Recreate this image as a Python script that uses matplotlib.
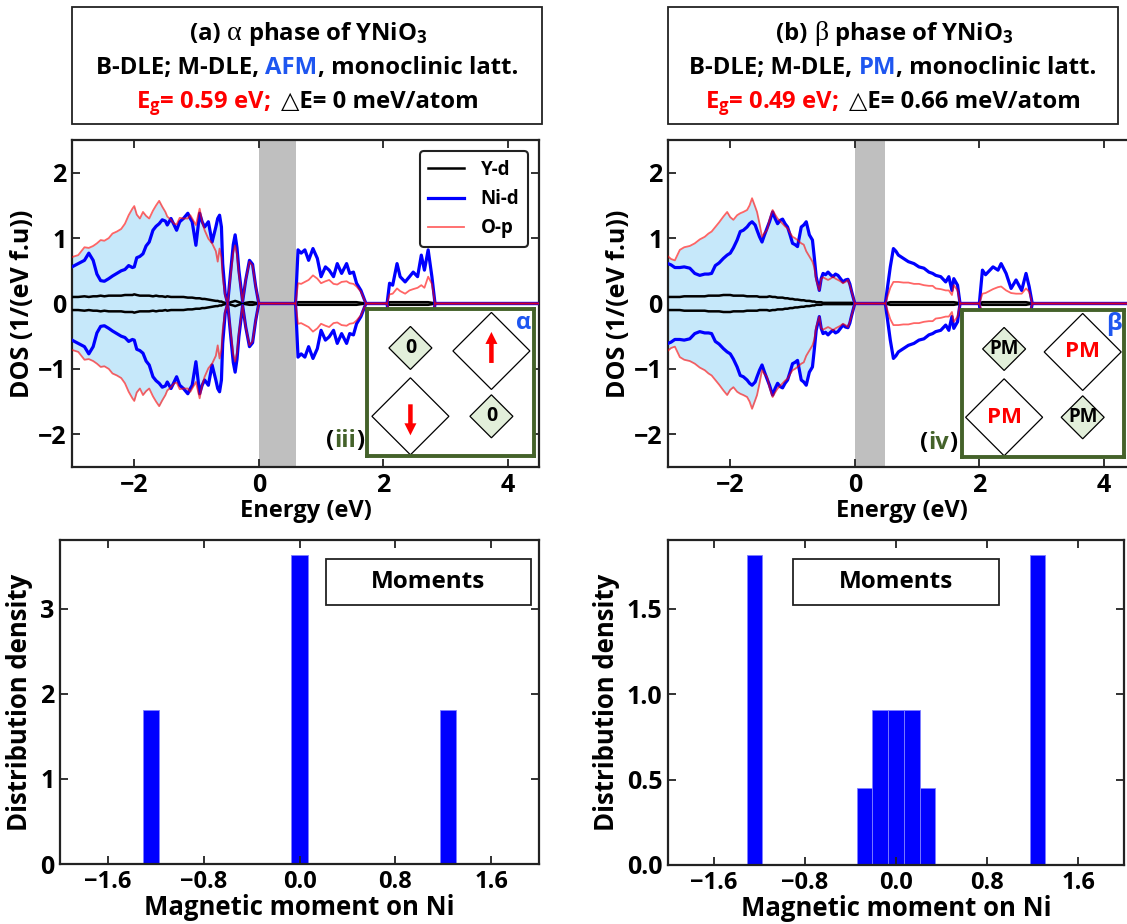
import numpy as np
import matplotlib
matplotlib.use('Agg')
import matplotlib.pyplot as plt
from matplotlib.patches import Polygon, Rectangle, FancyArrow
from matplotlib.ticker import FuncFormatter

# ---------------- data ----------------
E_a = [-3.00, -2.90, -2.80, -2.73, -2.66, -2.60, -2.54, -2.48, -2.41, -2.35,
       -2.28, -2.21, -2.15, -2.09, -2.03, -2.00, -1.96, -1.91, -1.86, -1.81,
       -1.76, -1.70, -1.65, -1.60, -1.55, -1.50, -1.47, -1.41, -1.36, -1.32,
       -1.27, -1.21, -1.14, -1.10, -1.07, -1.01, -0.95, -0.91, -0.87, -0.81,
       -0.75, -0.69, -0.66, -0.63, -0.60, -0.58, -0.54, -0.50, -0.45, -0.41,
       -0.38, -0.35, -0.32, -0.26, -0.21, -0.15, -0.10, -0.05, 0.00, 0.59,
       0.63, 0.68, 0.74, 0.80, 0.87, 0.94, 1.00, 1.07, 1.13, 1.20,
       1.26, 1.33, 1.41, 1.46, 1.52, 1.57, 1.64, 1.72, 2.06, 2.10,
       2.15, 2.22, 2.27, 2.35, 2.42, 2.48, 2.55, 2.61, 2.66, 2.72,
       2.78, 2.83, 4.50]
ni_a = [0.56, 0.61, 0.66, 0.77, 0.66, 0.45, 0.35, 0.34, 0.38, 0.42,
        0.46, 0.50, 0.52, 0.58, 0.55, 0.56, 0.70, 0.72, 0.76, 0.88,
        0.94, 1.12, 1.18, 1.22, 1.28, 1.26, 1.20, 1.30, 1.20, 1.12,
        1.25, 1.30, 1.38, 1.30, 1.25, 0.89, 1.38, 1.25, 1.17, 1.25,
        0.94, 1.17, 1.30, 1.35, 1.17, 0.61, 0.15, 0.00, 0.51, 0.90,
        1.05, 0.85, 0.51, 0.03, 0.36, 0.66, 0.60, 0.26, 0.00, 0.00,
        0.82, 0.77, 0.82, 0.66, 0.84, 0.69, 0.41, 0.56, 0.51, 0.41,
        0.61, 0.46, 0.61, 0.46, 0.48, 0.31, 0.20, 0.00, 0.00, 0.31,
        0.28, 0.61, 0.41, 0.33, 0.41, 0.48, 0.41, 0.74, 0.51, 0.82,
        0.41, 0.00, 0.00]
op_a = [0.71, 0.74, 0.86, 0.85, 0.88, 0.92, 0.97, 0.96, 1.00, 1.07,
        1.10, 1.14, 1.22, 1.35, 1.45, 1.49, 1.36, 1.30, 1.40, 1.34,
        1.30, 1.42, 1.50, 1.57, 1.48, 1.40, 1.33, 1.28, 1.22, 1.21,
        1.31, 1.30, 1.30, 1.35, 1.30, 1.20, 1.45, 1.25, 1.12, 0.99,
        0.92, 0.80, 0.64, 0.84, 0.70, 0.41, 0.12, 0.00, 0.45, 0.78,
        0.89, 0.75, 0.45, 0.03, 0.36, 0.64, 0.58, 0.26, 0.00, 0.00,
        0.31, 0.30, 0.33, 0.36, 0.43, 0.38, 0.31, 0.34, 0.36, 0.30,
        0.29, 0.33, 0.34, 0.31, 0.30, 0.26, 0.18, 0.00, 0.00, 0.14,
        0.15, 0.23, 0.19, 0.15, 0.20, 0.22, 0.24, 0.28, 0.24, 0.41,
        0.30, 0.00, 0.00]
yd_a = [0.10, 0.10, 0.11, 0.10, 0.11, 0.11, 0.12, 0.11, 0.12, 0.12,
        0.12, 0.12, 0.13, 0.13, 0.13, 0.14, 0.13, 0.12, 0.12, 0.12,
        0.12, 0.11, 0.12, 0.11, 0.11, 0.10, 0.11, 0.10, 0.10, 0.10,
        0.10, 0.10, 0.09, 0.09, 0.09, 0.08, 0.08, 0.07, 0.07, 0.06,
        0.05, 0.04, 0.04, 0.03, 0.03, 0.02, 0.01, 0.00, 0.02, 0.03,
        0.04, 0.03, 0.02, 0.00, 0.01, 0.02, 0.02, 0.01, 0.00, 0.00,
        0.02, 0.02, 0.02, 0.02, 0.02, 0.02, 0.02, 0.02, 0.02, 0.02,
        0.02, 0.02, 0.02, 0.02, 0.02, 0.02, 0.01, 0.00, 0.00, 0.02,
        0.02, 0.02, 0.02, 0.02, 0.02, 0.02, 0.02, 0.02, 0.02, 0.02,
        0.01, 0.00, 0.00]

E_b = [-3.00, -2.95, -2.89, -2.81, -2.74, -2.65, -2.57, -2.49, -2.41, -2.35,
       -2.30, -2.24, -2.18, -2.11, -2.05, -2.00, -1.95, -1.89, -1.84, -1.79,
       -1.73, -1.69, -1.65, -1.60, -1.57, -1.53, -1.49, -1.45, -1.41, -1.37,
       -1.32, -1.28, -1.24, -1.20, -1.16, -1.12, -1.08, -1.04, -1.00, -0.96,
       -0.92, -0.86, -0.82, -0.78, -0.73, -0.68, -0.65, -0.62, -0.57, -0.54,
       -0.51, -0.47, -0.43, -0.39, -0.35, -0.31, -0.27, -0.23, -0.19, -0.15,
       -0.11, -0.08, -0.05, 0.00, 0.49, 0.57, 0.62, 0.66, 0.70, 0.78,
       0.86, 0.95, 1.03, 1.11, 1.19, 1.25, 1.30, 1.38, 1.46, 1.51,
       1.56, 1.59, 1.65, 1.69, 2.00, 2.05, 2.10, 2.14, 2.22, 2.30,
       2.35, 2.43, 2.51, 2.59, 2.68, 2.75, 2.80, 2.85, 4.50]
ni_b = [0.61, 0.59, 0.55, 0.55, 0.56, 0.54, 0.46, 0.43, 0.45, 0.45,
        0.46, 0.58, 0.62, 0.69, 0.74, 0.77, 0.85, 0.97, 1.10, 1.12,
        1.17, 1.22, 1.25, 1.20, 1.12, 1.02, 0.94, 1.05, 1.15, 1.25,
        1.40, 1.30, 1.22, 1.27, 1.29, 1.22, 1.17, 1.05, 0.92, 0.90,
        0.87, 1.17, 1.20, 1.25, 1.05, 0.97, 0.70, 0.41, 0.20, 0.38,
        0.46, 0.44, 0.48, 0.44, 0.41, 0.45, 0.43, 0.38, 0.33, 0.36,
        0.37, 0.30, 0.18, 0.00, 0.00, 0.56, 0.84, 0.80, 0.74, 0.69,
        0.64, 0.61, 0.56, 0.54, 0.48, 0.46, 0.43, 0.41, 0.33, 0.41,
        0.20, 0.38, 0.28, 0.00, 0.00, 0.51, 0.44, 0.48, 0.56, 0.51,
        0.61, 0.46, 0.23, 0.36, 0.20, 0.46, 0.26, 0.00, 0.00]
op_b = [0.72, 0.68, 0.66, 0.82, 0.86, 0.88, 0.92, 0.98, 1.02, 1.07,
        1.10, 1.17, 1.24, 1.33, 1.40, 1.32, 1.28, 1.35, 1.38, 1.40,
        1.43, 1.50, 1.61, 1.48, 1.40, 1.22, 1.02, 1.08, 1.12, 1.28,
        1.43, 1.36, 1.30, 1.26, 1.22, 1.18, 1.15, 1.08, 1.02, 1.00,
        0.97, 0.92, 0.90, 0.80, 0.72, 0.64, 0.55, 0.36, 0.20, 0.38,
        0.40, 0.38, 0.36, 0.38, 0.41, 0.38, 0.36, 0.34, 0.31, 0.33,
        0.36, 0.28, 0.18, 0.00, 0.00, 0.24, 0.33, 0.33, 0.33, 0.32,
        0.32, 0.30, 0.30, 0.28, 0.27, 0.27, 0.23, 0.22, 0.20, 0.20,
        0.13, 0.28, 0.20, 0.00, 0.00, 0.15, 0.16, 0.18, 0.22, 0.25,
        0.26, 0.20, 0.16, 0.15, 0.15, 0.23, 0.18, 0.00, 0.00]
yd_b = [0.10, 0.10, 0.10, 0.10, 0.11, 0.11, 0.11, 0.11, 0.11, 0.12,
        0.12, 0.12, 0.12, 0.13, 0.13, 0.13, 0.12, 0.12, 0.12, 0.12,
        0.11, 0.11, 0.11, 0.11, 0.11, 0.10, 0.10, 0.10, 0.10, 0.11,
        0.10, 0.10, 0.09, 0.09, 0.09, 0.08, 0.08, 0.07, 0.07, 0.06,
        0.06, 0.05, 0.05, 0.04, 0.04, 0.03, 0.03, 0.02, 0.02, 0.02,
        0.01, 0.01, 0.01, 0.01, 0.01, 0.01, 0.01, 0.01, 0.01, 0.01,
        0.01, 0.01, 0.01, 0.00, 0.00, 0.02, 0.02, 0.02, 0.02, 0.02,
        0.02, 0.02, 0.02, 0.02, 0.02, 0.02, 0.02, 0.02, 0.02, 0.02,
        0.02, 0.02, 0.01, 0.00, 0.00, 0.02, 0.02, 0.02, 0.02, 0.02,
        0.02, 0.02, 0.02, 0.02, 0.02, 0.02, 0.01, 0.00, 0.00]

gap_a = 0.59
gap_b = 0.49

mom_a = [-1.31, 0.0, 0.0, 1.31]
mom_b = [-1.31, -1.31, -1.31, -1.31, -0.28, -0.15, -0.12, -0.02,
         0.02, 0.12, 0.15, 0.28, 1.31, 1.31, 1.31, 1.31]
mom_bins = 19
mom_ticks = [-1.6, -0.8, 0.0, 0.8, 1.6]

legend_labels = ['Y-d', 'Ni-d', 'O-p']

# ---------------- style ----------------
FONT = 'Open Sans'
plt.rcParams['font.family'] = [FONT, 'DejaVu Sans']
plt.rcParams['font.weight'] = 'bold'
plt.rcParams['axes.labelweight'] = 'bold'
plt.rcParams['mathtext.fontset'] = 'custom'
plt.rcParams['mathtext.rm'] = FONT + ':bold'
plt.rcParams['mathtext.bf'] = FONT + ':bold'
plt.rcParams['mathtext.it'] = FONT + ':bold'
plt.rcParams['mathtext.default'] = 'bf'
plt.rcParams['axes.linewidth'] = 1.6
plt.rcParams['axes.edgecolor'] = '#222222'

GREEN = '#44622a'
BLUE_TXT = '#1e56f0'
FILL = '#c6e8fa'

W, H = 1127, 924
fig = plt.figure(figsize=(W / 100, H / 100), dpi=100)
renderer = fig.canvas.get_renderer()


def px_axes(x0, y0, x1, y1):
    return fig.add_axes([x0 / W, 1 - y1 / H, (x1 - x0) / W, (y1 - y0) / H])


def style_ticks(ax, xsize, ysize):
    ax.tick_params(direction='in', top=True, right=True, length=6, width=1.3,
                   color='#222222')
    ax.tick_params(axis='x', labelsize=xsize, pad=4)
    ax.tick_params(axis='y', labelsize=ysize, pad=4)
    for lab in ax.get_xticklabels() + ax.get_yticklabels():
        lab.set_fontweight('bold')


def text_width(s, props):
    t1 = fig.text(0, 0, '|' + s + '|', **props)
    t2 = fig.text(0, 0, '||', **props)
    w = t1.get_window_extent(renderer).width - t2.get_window_extent(renderer).width
    t1.remove()
    t2.remove()
    return w


def mixed_text(x, y, parts, ha='center'):
    """parts: list of (string, props, extra_gap_px); x,y in figure px (y from top, baseline)."""
    widths = [text_width(s, p) + g for s, p, g in parts]
    total = sum(widths)
    if ha == 'center':
        start = x - total / 2
    elif ha == 'right':
        start = x - total
    else:
        start = x
    cur = start
    for (s, p, g), w in zip(parts, widths):
        lead = len(s) - len(s.lstrip(' '))
        off = (text_width(' ' * lead, p) if lead else 0) + g
        fig.text((cur + off) / W, 1 - y / H, s.strip(' '), ha='left', va='baseline', **p)
        cur += w


def title_box(x0, y0, x1, y1, lines):
    fig.patches.append(Rectangle((x0 / W, 1 - y1 / H), (x1 - x0) / W, (y1 - y0) / H,
                                 transform=fig.transFigure, fc='white', ec='#222222',
                                 lw=1.3))
    xc = (x0 + x1) / 2
    for yb, parts in lines:
        mixed_text(xc, yb, parts)


TS = 17.2
base = dict(fontsize=TS, fontweight='bold', color='black')
greek = dict(fontsize=TS + 3, fontweight='normal', color='black',
             family=['Liberation Serif', 'DejaVu Serif'])
red = dict(base, color='red')
blue = dict(base, color=BLUE_TXT)

title_box(72, 7, 542, 124, [
    (40, [('(a) ', base, 0), ('\u03b1', greek, 0), (' phase of YNiO$_3$', base, 0)]),
    (74, [('B-DLE; M-DLE, ', base, 0), ('AFM', blue, 0), (', monoclinic latt.', base, 0)]),
    (108, [('E$_g$= 0.59 eV;', red, 0), ('\u25b3E= 0 meV/atom', base, 14)]),
])
title_box(668, 7, 1118, 124, [
    (40, [('(b) ', base, 0), ('\u03b2', greek, 0), (' phase of YNiO$_3$', base, 0)]),
    (74, [('B-DLE; M-DLE, ', base, 0), ('PM', blue, 0), (', monoclinic latt.', base, 0)]),
    (108, [('E$_g$= 0.49 eV;', red, 0), ('\u25b3E= 0.66 meV/atom', base, 14)]),
])


def dos_panel(ax, E, ni, op, yd, gap, legend):
    E = np.asarray(E)
    ni = np.asarray(ni)
    op = np.asarray(op)
    yd = np.asarray(yd)
    ax.axvspan(0, gap, color='gray', alpha=0.5, lw=0, zorder=1)
    occ = E <= 0
    env = np.maximum(ni, op)
    ax.fill_between(E[occ], env[occ], -env[occ], color=FILL, lw=0, zorder=2)
    l1, = ax.plot(E, yd, color='black', lw=1.8, zorder=3)
    ax.plot(E, -yd, color='black', lw=1.8, zorder=3)
    l2, = ax.plot(E, ni, color='blue', lw=2.3, zorder=4)
    ax.plot(E, -ni, color='blue', lw=2.3, zorder=4)
    l3, = ax.plot(E, op, color='red', alpha=0.6, lw=1.3, zorder=5)
    ax.plot(E, -op, color='red', alpha=0.6, lw=1.3, zorder=5)
    ax.set_xlim(-3, 4.5)
    ax.set_ylim(-2.5, 2.5)
    ax.set_xticks([-2, 0, 2, 4])
    ax.set_yticks([-2, -1, 0, 1, 2])
    ax.set_xlabel('Energy (eV)', fontsize=17, labelpad=1)
    ax.set_ylabel('DOS (1/(eV f.u))', fontsize=18, labelpad=2)
    style_ticks(ax, 18, 18)
    if legend:
        lg = ax.legend([l1, l2, l3], legend_labels, loc='upper right', fontsize=13.5,
                       frameon=True, fancybox=True, framealpha=1, edgecolor='#222222',
                       handlelength=1.9, labelspacing=0.5, borderpad=0.45,
                       handletextpad=0.9, borderaxespad=0.6)
        lg.get_frame().set_linewidth(1.5)
        lg.set_zorder(20)
        for t in lg.get_texts():
            t.set_fontweight('bold')


def inset(ax, axbox, box, greek_char, kind):
    ax0x, ax0y, ax1x, ax1y = axbox
    bx0, by0, bx1, by1 = box
    aw, ah = ax1x - ax0x, ax1y - ax0y
    bw, bh = bx1 - bx0, by1 - by0
    ins = ax.inset_axes([(bx0 - ax0x) / aw, (ax1y - by1) / ah, bw / aw, bh / ah])
    ins.set_zorder(15)
    ins.set_xlim(0, bw)
    ins.set_ylim(0, bh)
    ins.set_xticks([])
    ins.set_yticks([])
    for s in ins.spines.values():
        s.set_color(GREEN)
        s.set_linewidth(2.8)
    xl, xr = 0.26 * bw, 0.745 * bw
    yt, yb = 0.735 * bh, 0.27 * bh
    small, big = 21.5, 38.5

    def diamond(cx, cy, h, fc):
        ins.add_patch(Polygon([(cx - h, cy), (cx, cy + h), (cx + h, cy), (cx, cy - h)],
                              closed=True, fc=fc, ec='black', lw=0.9, clip_on=False))

    diamond(xl, yt, small, '#e2efda')
    diamond(xr, yt - 3, big, 'white')
    diamond(xl, yb, big, 'white')
    diamond(xr, yb, small, '#e2efda')
    if kind == 'afm':
        ins.text(xl, yt, '0', ha='center', va='center', fontsize=14, fontweight='bold')
        ins.text(xr, yb, '0', ha='center', va='center', fontsize=14, fontweight='bold')
        ins.add_patch(FancyArrow(xr, yt - 3 - 12, 0, 31, width=4.5, head_width=12,
                                 head_length=12, length_includes_head=True,
                                 color='red', lw=0))
        ins.add_patch(FancyArrow(xl, yb + 12, 0, -31, width=4.5, head_width=12,
                                 head_length=12, length_includes_head=True,
                                 color='red', lw=0))
    else:
        ins.text(xl, yt, 'PM', ha='center', va='center', fontsize=13.5, fontweight='bold')
        ins.text(xr, yb, 'PM', ha='center', va='center', fontsize=13.5, fontweight='bold')
        ins.text(xr, yt - 3, 'PM', ha='center', va='center', fontsize=16,
                 fontweight='bold', color='red')
        ins.text(xl, yb, 'PM', ha='center', va='center', fontsize=16,
                 fontweight='bold', color='red')
    ins.text(bw - 10, bh - 14, greek_char, ha='center', va='center', fontsize=17,
             fontweight='bold', color=BLUE_TXT)
    return ins


# ---- top-left
box_a = (72, 140, 539, 467)
ax_a = px_axes(*box_a)
dos_panel(ax_a, E_a, ni_a, op_a, yd_a, gap_a, True)
inset(ax_a, box_a, (367, 309, 534, 456), '\u03b1', 'afm')
small = dict(fontsize=17, fontweight='bold', color='black')
mixed_text(364, 447, [('(', small, 0), ('iii', dict(small, color=GREEN), 0), (')', small, 0)],
           ha='right')

# ---- top-right (extends past the figure edge as in the reference)
box_b = (668, 140, 1135, 467)
ax_b = px_axes(*box_b)
dos_panel(ax_b, E_b, ni_b, op_b, yd_b, gap_b, False)
inset(ax_b, box_b, (962, 310, 1124, 457), '\u03b2', 'pm')
mixed_text(957, 449, [('(', small, 0), ('iv', dict(small, color=GREEN), 0), (')', small, 0)],
           ha='right')


def fmt1(x, pos):
    return ('%.1f' % x).replace('-', '\u2212')


def hist_panel(ax, mom, yticks, yfmt, box_x):
    ax.hist(mom, bins=mom_bins, density=True, color='blue', ec='#8080ff', lw=0.6)
    ax.set_xlim(-2, 2)
    ax.set_xticks(mom_ticks)
    ax.xaxis.set_major_formatter(FuncFormatter(fmt1))
    ax.set_yticks(yticks)
    if yfmt:
        ax.yaxis.set_major_formatter(FuncFormatter(fmt1))
    ax.set_xlabel('Magnetic moment on Ni', fontsize=18.5, labelpad=0)
    ax.set_ylabel('Distribution density', fontsize=18.5, labelpad=5)
    style_ticks(ax, 17, 18)
    x0, x1 = box_x
    ax.add_patch(Rectangle((x0, 0.799), x1 - x0, 0.142, transform=ax.transAxes,
                           fc='white', ec='#222222', lw=1.3, zorder=10))
    ax.text((x0 + x1) / 2, 0.87, 'Moments', transform=ax.transAxes, ha='center',
            va='center', fontsize=17.5, fontweight='bold', zorder=11)


ax_c = px_axes(60, 540, 539, 864)
hist_panel(ax_c, mom_a, [0, 1, 2, 3], False, (0.555, 0.983))
ax_d = px_axes(668, 540, 1124, 865)
hist_panel(ax_d, mom_b, [0.0, 0.5, 1.0, 1.5], True, (0.274, 0.726))

fig.savefig('out.png', dpi=100)
